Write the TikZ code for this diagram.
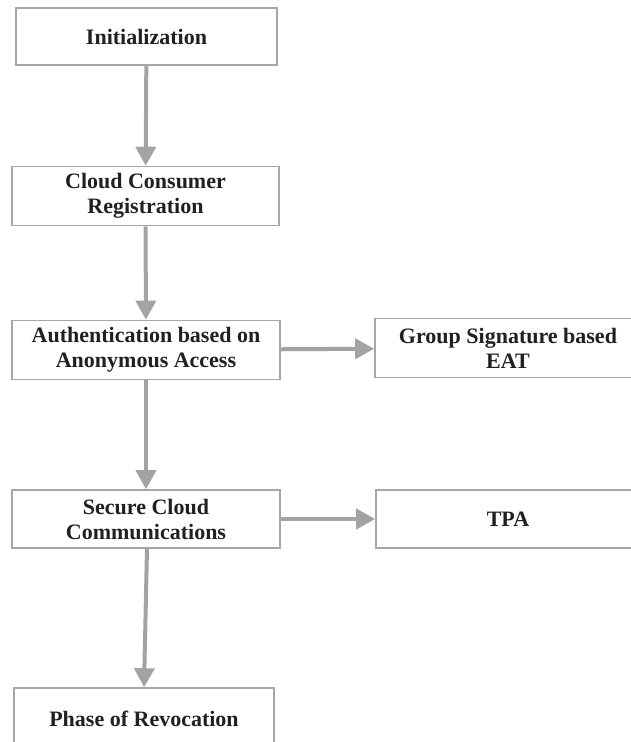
\documentclass[tikz,border=0pt]{standalone}
\usepackage{fontspec}
\setmainfont{Liberation Serif}
\usepackage{xcolor}
\definecolor{ink}{HTML}{231F20}
\definecolor{frame}{HTML}{A7A7A9}
\definecolor{flow}{HTML}{A3A3A6}
\usetikzlibrary{arrows.meta,positioning}
\tikzset{
  every picture/.style={font=\fontsize{22}{25}\bfseries\selectfont},
  stage/.style={draw=frame, line width=1.6pt, fill=white, text=ink, align=center, inner sep=0pt, minimum width=#1, minimum height=59pt},
  stage/.default=267pt,
  arrow/.style={-{Triangle[width=20pt,length=19pt]}, draw=flow, line width=4pt},
}

\begin{document}
\begin{tikzpicture}[x=1pt, y=-1pt]
  \useasboundingbox (0,0) rectangle (631,742);
  \node[stage=261pt, minimum height=57pt] (init) at (146.5,36.5) {Initialization};
  \node[stage] (reg) at (145.5,196) {Cloud Consumer\\Registration};
  \node[stage=268pt] (auth) at (146,350) {Authentication based on\\Anonymous Access};
  \node[stage=266pt] (gsig) at (508,348) {Group Signature based\\EAT};
  \node[stage=268pt, minimum height=58pt] (secure) at (146,519) {Secure Cloud\\Communications};
  \node[stage=264pt, minimum height=58pt] (tpa) at (508,519) {TPA};
  \node[stage=260pt, minimum height=62pt] (revoke) at (144,719) {Phase of Revocation};
  % main flow
  \draw[arrow] (init) -- (reg);
  \draw[arrow] (reg) -- (auth);
  \draw[arrow] (auth) -- (secure);
  \draw[arrow] (secure.south) ++(1,0) -- (revoke.north);
  % side branches
  \draw[arrow] (auth) -- (gsig);
  \draw[arrow] (secure) -- (tpa);
\end{tikzpicture}
\end{document}
